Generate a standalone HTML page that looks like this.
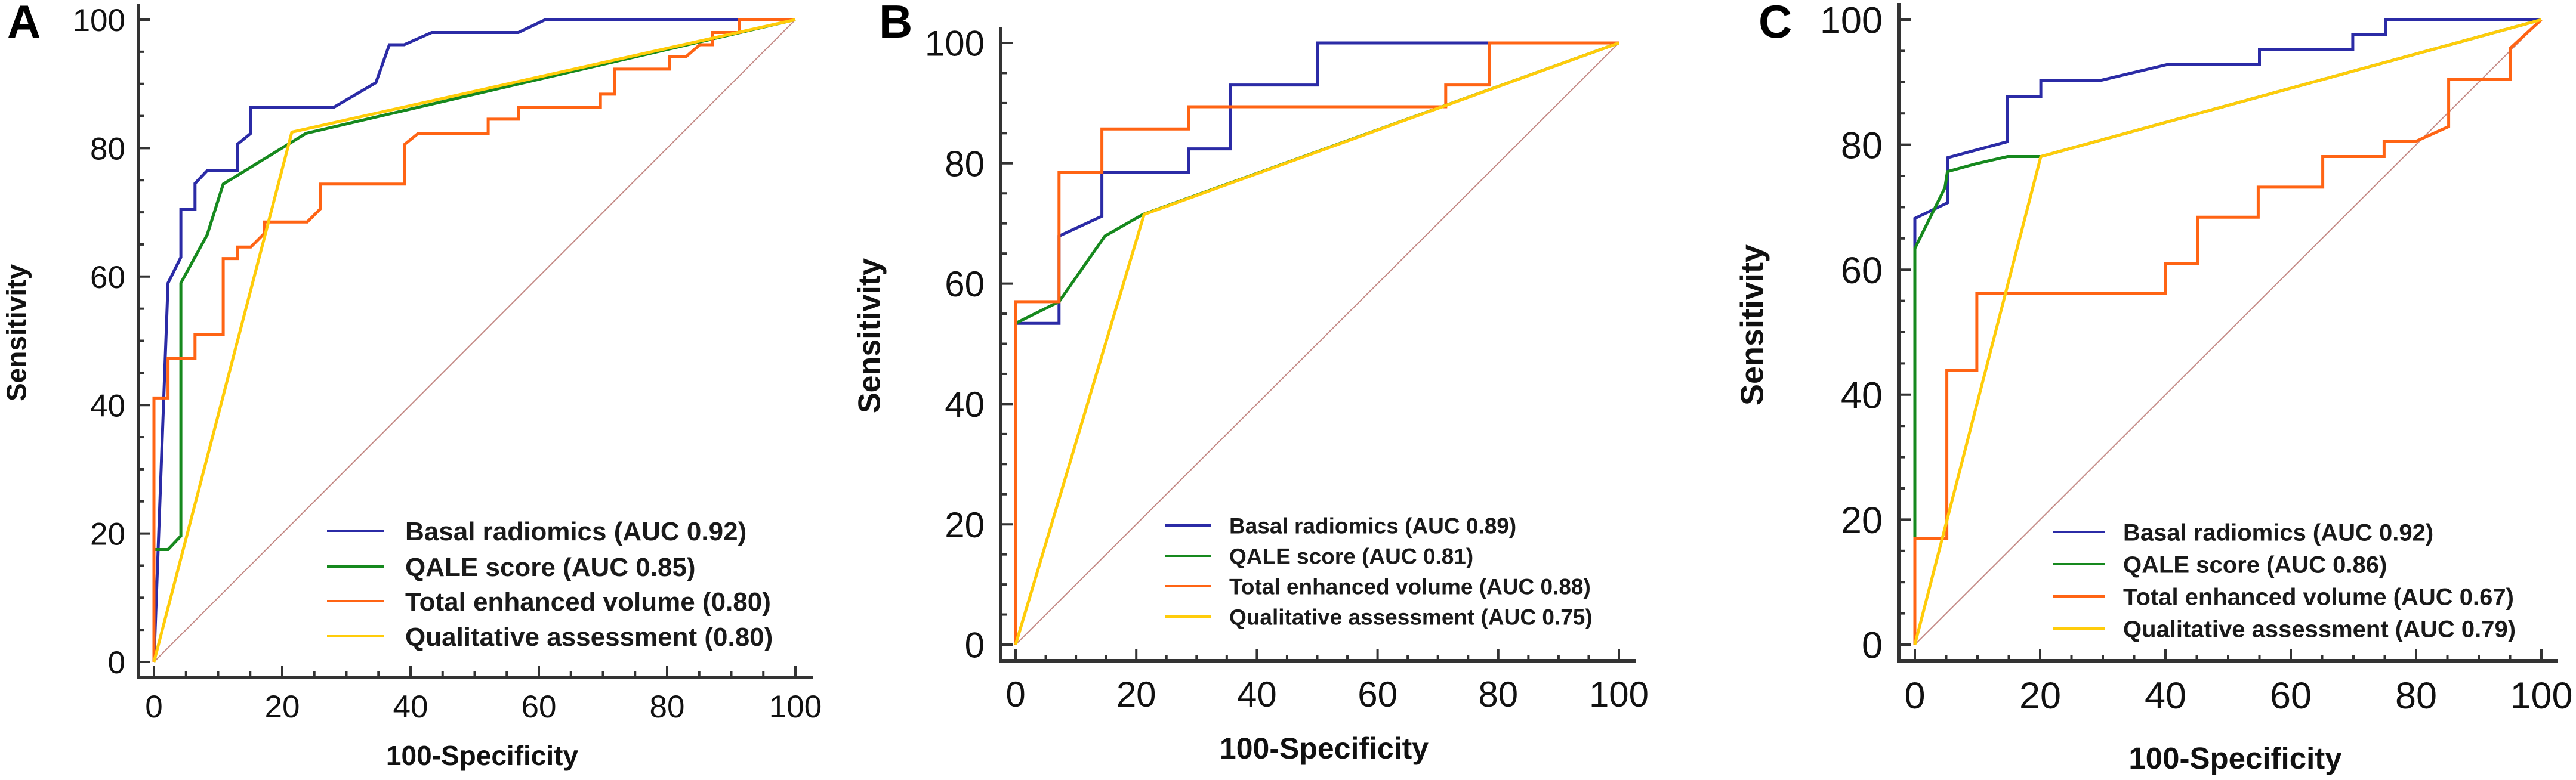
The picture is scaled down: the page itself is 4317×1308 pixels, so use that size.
<!DOCTYPE html>
<html><head><meta charset="utf-8"><style>
html,body{margin:0;padding:0;background:#fff;}
svg{display:block;font-family:"Liberation Sans",Arial,sans-serif;}
</style></head><body>
<svg id="fig" width="4317" height="1308" viewBox="0 0 4317 1308" xmlns="http://www.w3.org/2000/svg"></svg>
<script>
// ===== Data (100-Specificity, Sensitivity) =====
const tickValues = [0, 20, 40, 60, 80, 100];
const seriesNames = ["Basal radiomics", "QALE score", "Total enhanced volume", "Qualitative assessment"];
const legendA = ["Basal radiomics (AUC 0.92)", "QALE score (AUC 0.85)", "Total enhanced volume (0.80)", "Qualitative assessment (0.80)"];
const legendB = ["Basal radiomics (AUC 0.89)", "QALE score (AUC 0.81)", "Total enhanced volume (AUC 0.88)", "Qualitative assessment (AUC 0.75)"];
const legendC = ["Basal radiomics (AUC 0.92)", "QALE score (AUC 0.86)", "Total enhanced volume (AUC 0.67)", "Qualitative assessment (AUC 0.79)"];

// Panel A
const aBlueX = [0,2.2,4.2,4.2,6.4,6.4,8.3,13,13,15.1,15.1,28.1,34.6,36.7,39,43.3,56.8,61,100];
const aBlueY = [0,59,63,70.5,70.5,74.5,76.5,76.5,80.6,82.3,86.4,86.4,90.2,96.1,96.1,98,98,100,100];
const aGreenX = [0,0,2.2,4.2,4.2,8.3,10.8,23.7,100];
const aGreenY = [0,17.5,17.5,19.6,59,66.5,74.4,82.3,100];
const aOrangeX = [0,0,2.2,2.2,6.4,6.4,10.8,10.8,13,13,15.1,17.2,17.2,23.9,26,26,39.1,39.1,41.2,52.1,52.1,56.8,56.8,69.6,69.6,71.8,71.8,80.4,80.4,82.9,85.1,87.1,87.1,91.3,91.3,100];
const aOrangeY = [0,41.1,41.1,47.3,47.3,51,51,62.8,62.8,64.6,64.6,66.7,68.5,68.5,70.6,74.4,74.4,80.6,82.3,82.3,84.5,84.5,86.4,86.4,88.4,88.4,92.3,92.3,94.2,94.2,96.1,96.1,98,98,100,100];
const aYellowX = [0,21.5,100];
const aYellowY = [0,82.5,100];

// Panel B
const bBlueX = [0,0,7.2,7.2,14.3,14.3,28.7,28.7,35.6,35.6,50,50,100];
const bBlueY = [0,53.4,53.4,67.9,71.2,78.5,78.5,82.4,82.4,93,93,100,100];
const bGreenX = [0,0,7.2,14.8,21.1,100];
const bGreenY = [0,53.4,57,67.9,71.5,100];
const bOrangeX = [0,0,7.2,7.2,14.3,14.3,28.7,28.7,71.3,71.3,78.5,78.5,100];
const bOrangeY = [0,57,57,78.5,78.5,85.7,85.7,89.4,89.4,93,93,100,100];
const bYellowX = [0,21.3,100];
const bYellowY = [0,71.5,100];

// Panel C
const cBlueX = [0,0,5.2,5.2,14.8,14.8,20.1,20.1,29.7,40.2,55,55,69.9,69.9,75.1,75.1,100];
const cBlueY = [0,68.2,70.7,77.9,80.5,87.7,87.7,90.3,90.3,92.8,92.8,95.2,95.2,97.6,97.6,100,100];
const cGreenX = [0,0,4.8,5.2,9.6,14.8,20.1,100];
const cGreenY = [0,63.4,73.1,75.7,76.9,78.1,78.1,100];
const cOrangeX = [0,0,5.1,5.1,9.9,9.9,40,40,45.1,45.1,54.8,54.8,65.1,65.1,74.9,74.9,79.9,85.2,85.2,95,95,100];
const cOrangeY = [0,17,17,43.9,43.9,56.2,56.2,61,61,68.4,68.4,73.2,73.2,78.1,78.1,80.5,80.5,82.9,90.5,90.5,95.4,100];
const cYellowX = [0,20.1,100];
const cYellowY = [0,78.1,100];

const colors = ["#2b2ba6", "#16891e", "#ff6414", "#ffcc0a"];
const NS = "http://www.w3.org/2000/svg";
const svg = document.getElementById("fig");

function mk(tag, attrs, parent) {
  const e = document.createElementNS(NS, tag);
  for (const k in attrs) e.setAttribute(k, attrs[k]);
  (parent || svg).appendChild(e);
  return e;
}

const panels = [
  {id:"a", letter:"A", lx:12, ly:63, lfs:78,
   x0:258, x1:1333, y0:1110, y1:33, axL:232, axB:1136, axTop:7, axRight:1363,
   tfs:53, yLabR:210, xLabBase:1203, series:[[aBlueX,aBlueY],[aGreenX,aGreenY],[aOrangeX,aOrangeY],[aYellowX,aYellowY]],
   legend:legendA, legL1:548, legL2:643, legT:679, legY:[890,950,1008,1067], legFs:44, legW:"bold",
   ytX:27, ytY:558, ytFs:46, xtX:808, xtY:1283, xtFs:46, lw:5},
  {id:"b", letter:"B", lx:1473, ly:63, lfs:78,
   x0:1702, x1:2713, y0:1081, y1:72, axL:1677, axB:1108, axTop:46, axRight:2742,
   tfs:60, yLabR:1650, xLabBase:1185, series:[[bBlueX,bBlueY],[bGreenX,bGreenY],[bOrangeX,bOrangeY],[bYellowX,bYellowY]],
   legend:legendB, legL1:1952, legL2:2029, legT:2060, legY:[881,932,983,1034], legFs:37, legW:"bold",
   ytX:1456, ytY:563, ytFs:52, xtX:2219, xtY:1272, xtFs:50, lw:5},
  {id:"c", letter:"C", lx:2947, ly:63, lfs:78,
   x0:3209, x1:4259, y0:1081, y1:33, axL:3182, axB:1108, axTop:5, axRight:4287,
   tfs:63, yLabR:3155, xLabBase:1188, series:[[cBlueX,cBlueY],[cGreenX,cGreenY],[cOrangeX,cOrangeY],[cYellowX,cYellowY]],
   legend:legendC, legL1:3441, legL2:3527, legT:3558, legY:[892,946,1000,1054], legFs:40, legW:"bold",
   ytX:2935, ytY:545, ytFs:54, xtX:3746, xtY:1289, xtFs:51, lw:5}
];

panels.forEach(p => {
  const sx = v => p.x0 + (p.x1 - p.x0) * v / 100;
  const sy = v => p.y0 + (p.y1 - p.y0) * v / 100;
  const g = mk("g", {});
  
  

  const letter = mk("text", {x:p.lx, y:p.ly, "font-size":p.lfs, "font-weight":"bold", fill:"#000"}, g);
  letter.textContent = p.letter;
  
  

  const diag = mk("line", {x1:sx(0), y1:sy(0), x2:sx(100), y2:sy(100), stroke:"#c48a86", "stroke-width":2}, g);
  
  

  [0,1,2,3].forEach(i => {
    const xs = p.series[i][0], ys = p.series[i][1];
    const pts = xs.map((x, j) => sx(x).toFixed(1) + "," + sy(ys[j]).toFixed(1)).join(" ");
    const pl = mk("polyline", {points:pts, fill:"none", stroke:colors[i], "stroke-width":p.lw, "stroke-linejoin":"miter"}, g);
    
    
  });

  const ya = mk("line", {x1:p.axL, y1:p.axTop, x2:p.axL, y2:p.axB + 3, stroke:"#333", "stroke-width":6}, g);
  
  
  const xa = mk("line", {x1:p.axL - 3, y1:p.axB, x2:p.axRight, y2:p.axB, stroke:"#333", "stroke-width":6}, g);
  
  

  for (let v = 0; v <= 100; v += 5) {
    const len = (v % 20 === 0) ? 20 : 10;
    mk("line", {x1:p.axL, y1:sy(v), x2:p.axL + len, y2:sy(v), stroke:"#333", "stroke-width":4}, g);
    mk("line", {x1:sx(v), y1:p.axB, x2:sx(v), y2:p.axB - len, stroke:"#333", "stroke-width":4}, g);
  }
  tickValues.forEach(v => {
    const ty = mk("text", {x:p.yLabR, y:sy(v) + p.tfs * 0.36, "font-size":p.tfs, "text-anchor":"end", fill:"#111"}, g);
    ty.textContent = v;
    
    
    const tx = mk("text", {x:sx(v), y:p.xLabBase, "font-size":p.tfs, "text-anchor":"middle", fill:"#111"}, g);
    tx.textContent = v;
    
    
  });

  const yt = mk("text", {x:0, y:0, "font-size":p.ytFs, "font-weight":"bold", "text-anchor":"middle",
    transform:"translate(" + (p.ytX + p.ytFs * 0.36) + "," + p.ytY + ") rotate(-90)", fill:"#111"}, g);
  yt.textContent = "Sensitivity";
  
  
  const xt = mk("text", {x:p.xtX, y:p.xtY, "font-size":p.xtFs, "font-weight":"bold", "text-anchor":"middle", fill:"#111"}, g);
  xt.textContent = "100-Specificity";
  
  

  p.legend.forEach((label, i) => {
    const lg = mk("g", {}, g);
    
    
    mk("line", {x1:p.legL1, y1:p.legY[i], x2:p.legL2, y2:p.legY[i], stroke:colors[i], "stroke-width":4}, lg);
    const t = mk("text", {x:p.legT, y:p.legY[i] + p.legFs * 0.36, "font-size":p.legFs, "font-weight":p.legW, fill:"#1a1a1a"}, lg);
    t.textContent = label;
  });
});
</script>
</body></html>
